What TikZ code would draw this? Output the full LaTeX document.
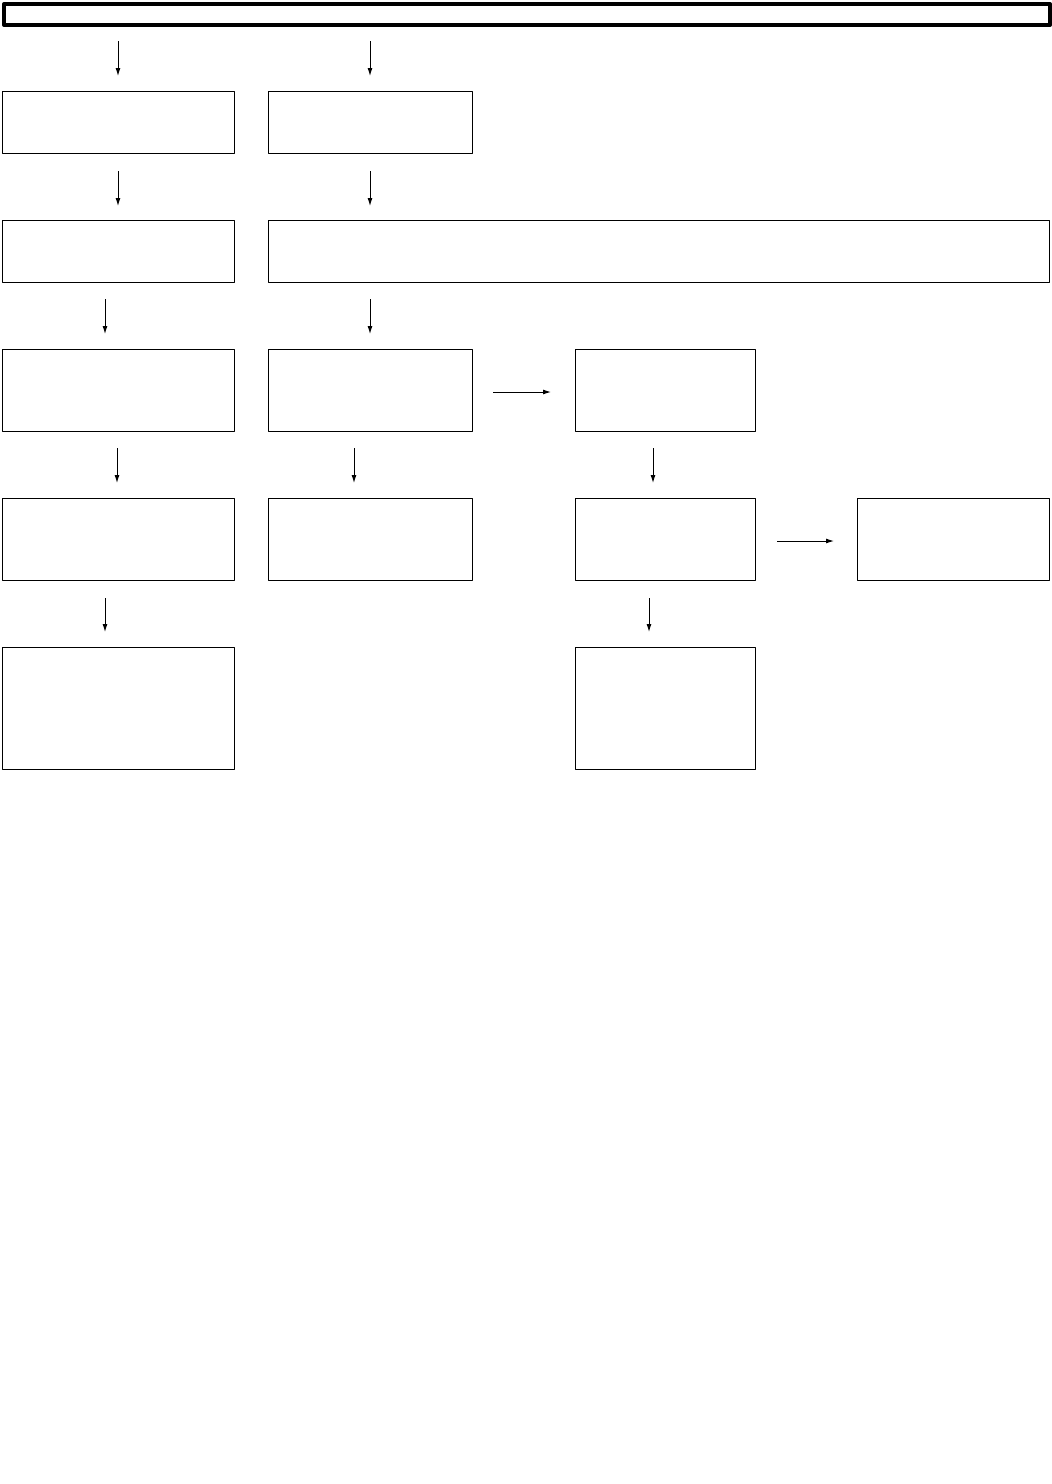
\documentclass[tikz,border=0pt]{standalone}
\usetikzlibrary{arrows.meta}
\tikzset{
  every picture/.style={line join=round, >=Latex},
  box/.style={draw, line width=1.3pt, inner sep=0pt, anchor=north west},
  titlebox/.style={draw, line width=4pt, inner sep=0pt, anchor=north west},
  flow/.style={line width=1pt, -{Latex[length=8pt,width=5pt]}},
}

\begin{document}
\begin{tikzpicture}[x=1pt,y=-1pt]
\useasboundingbox (0,0) rectangle (1052,1484);
% title bar
\node[titlebox,minimum width=1046pt,minimum height=21pt] (title) at (2,2) {};
% boxes, row by row
\node[box,minimum width=232pt,minimum height=62pt] (a) at (2,91) {};
\node[box,minimum width=204pt,minimum height=62pt] (b) at (268,91) {};
\node[box,minimum width=232pt,minimum height=62pt] (c) at (2,220) {};
\node[box,minimum width=781pt,minimum height=62pt] (d) at (268,220) {};
\node[box,minimum width=232pt,minimum height=82pt] (e) at (2,349) {};
\node[box,minimum width=204pt,minimum height=82pt] (f) at (268,349) {};
\node[box,minimum width=180pt,minimum height=82pt] (g) at (575,349) {};
\node[box,minimum width=232pt,minimum height=82pt] (h) at (2,498) {};
\node[box,minimum width=204pt,minimum height=82pt] (i) at (268,498) {};
\node[box,minimum width=180pt,minimum height=82pt] (j) at (575,498) {};
\node[box,minimum width=192pt,minimum height=82pt] (k) at (857,498) {};
\node[box,minimum width=232pt,minimum height=122pt] (l) at (2,647) {};
\node[box,minimum width=180pt,minimum height=122pt] (m) at (575,647) {};
% arrow ends
\coordinate (t1) at (118,41);  \coordinate (a-in) at (118,76);
\coordinate (t2) at (370,41);  \coordinate (b-in) at (370,76);
\coordinate (a-out) at (118,171); \coordinate (c-in) at (118,206);
\coordinate (b-out) at (370,171); \coordinate (d-in) at (370,206);
\coordinate (c-out) at (105,299); \coordinate (e-in) at (105,334);
\coordinate (d-out) at (370,299); \coordinate (f-in) at (370,334);
\coordinate (f-out) at (493,392); \coordinate (g-in) at (551,392);
\coordinate (e-out) at (117,448); \coordinate (h-in) at (117,483);
\coordinate (f-dn) at (354,448);  \coordinate (i-in) at (354,483);
\coordinate (g-out) at (653,448); \coordinate (j-in) at (653,483);
\coordinate (j-out) at (777,541); \coordinate (k-in) at (834,541);
\coordinate (h-out) at (105,598); \coordinate (l-in) at (105,632);
\coordinate (j-dn) at (649,598);  \coordinate (m-in) at (649,632);
% connectors
\foreach \s/\t in {t1/a-in,t2/b-in,a-out/c-in,b-out/d-in,c-out/e-in,d-out/f-in,
  f-out/g-in,e-out/h-in,f-dn/i-in,g-out/j-in,j-out/k-in,h-out/l-in,j-dn/m-in}
  \draw[flow] (\s) -- (\t);
\end{tikzpicture}
\end{document}
